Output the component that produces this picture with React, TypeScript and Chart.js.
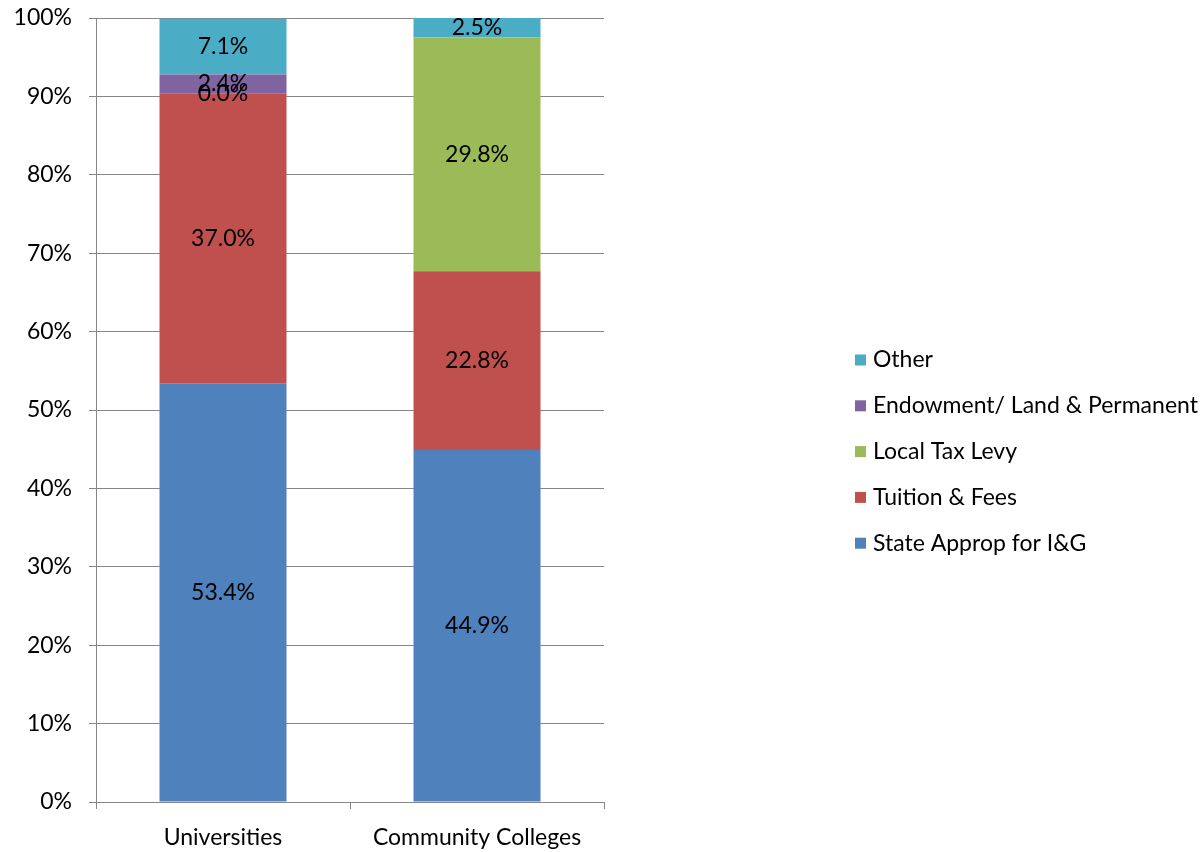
import React, { useEffect, useRef } from "react";
import { Chart, registerables } from "chart.js";

Chart.register(...registerables);

const categories = ["Universities", "Community Colleges"];
const seriesNames = ["State Approp for I&G", "Tuition & Fees", "Local Tax Levy", "Endowment/ Land & Permanent", "Other"];
const stateApprop = [53.4, 44.9];
const tuitionFees = [37.0, 22.8];
const localTaxLevy = [0.0, 29.8];
const endowment = [2.4, null];
const other = [7.1, 2.5];
const seriesColors = ["#4F81BD", "#C0504D", "#9BBB59", "#8064A2", "#4BACC6"];
const yTicks = [0, 10, 20, 30, 40, 50, 60, 70, 80, 90, 100];

const FONT = "Lato, 'Open Sans', sans-serif";
const FS = 23;
const GRID = "#868686";

const dataLabelPlugin = {
  id: "dataLabels",
  afterDatasetsDraw(chart: any) {
    const ctx = chart.ctx;
    ctx.save();
    ctx.font = `${FS}px ${FONT}`;
    ctx.fillStyle = "#000";
    ctx.textAlign = "center";
    ctx.textBaseline = "middle";
    chart.data.datasets.forEach((ds: any, di: number) => {
      const meta = chart.getDatasetMeta(di);
      meta.data.forEach((bar: any, i: number) => {
        const v = ds.data[i];
        if (v === null || v === undefined) return;
        const p = bar.getProps(["x", "y", "base"], true);
        ctx.fillText(v.toFixed(1) + "%", p.x, (p.y + p.base) / 2);
      });
    });
    ctx.restore();
  },
};

const legendPlugin = {
  id: "customLegend",
  afterDraw(chart: any) {
    const ctx = chart.ctx;
    const ds = chart.data.datasets;
    const x0 = 855;
    const yTop = 360;
    const gap = 45.8;
    ctx.save();
    ctx.font = `${FS}px ${FONT}`;
    ctx.textBaseline = "middle";
    ctx.textAlign = "left";
    for (let k = 0; k < ds.length; k++) {
      const d = ds[ds.length - 1 - k];
      const y = yTop + k * gap;
      ctx.fillStyle = d.backgroundColor;
      ctx.fillRect(x0, y - 5.5, 11, 11);
      ctx.fillStyle = "#000";
      ctx.fillText(d.label, x0 + 18, y);
    }
    ctx.restore();
  },
};

export default function App() {
  const ref = useRef<HTMLCanvasElement>(null);
  useEffect(() => {
    document.body.style.margin = "0";
    const values = [stateApprop, tuitionFees, localTaxLevy, endowment, other];
    const chart = new Chart(ref.current as HTMLCanvasElement, {
      type: "bar",
      data: {
        labels: categories,
        datasets: seriesNames.map((name, i) => ({
          label: name,
          data: values[i] as any,
          backgroundColor: seriesColors[i],
          borderWidth: 0,
          categoryPercentage: 1,
          barPercentage: 0.5,
        })),
      },
      options: {
        responsive: false,
        animation: false,
        layout: { padding: { left: 0, right: 599, top: 18, bottom: 0 } },
        plugins: { legend: { display: false }, tooltip: { enabled: false } },
        scales: {
          x: {
            stacked: true,
            offset: true,
            grid: {
              offset: true,
              drawOnChartArea: false,
              drawTicks: true,
              tickLength: 7,
              color: GRID,
            },
            border: { color: GRID, width: 1 },
            ticks: { color: "#000", font: { family: FONT, size: FS }, padding: 15 },
            afterFit: (s: any) => {
              s.height = 50;
              s.paddingLeft = 0;
              s.paddingRight = 0;
            },
          },
          y: {
            stacked: true,
            min: 0,
            max: 100,
            afterBuildTicks: (s: any) => {
              s.ticks = yTicks.map((v) => ({ value: v }));
            },
            grid: { color: GRID, tickLength: 7 },
            border: { color: GRID, width: 1 },
            ticks: {
              color: "#000",
              font: { family: FONT, size: FS },
              padding: 17,
              callback: (v: any) => v + "%",
            },
            afterFit: (s: any) => {
              s.width = 96;
              s.paddingTop = 0;
              s.paddingBottom = 0;
            },
          },
        },
      },
      plugins: [dataLabelPlugin, legendPlugin],
    });
    return () => chart.destroy();
  }, []);
  return (
    <div style={{ width: 1203, height: 852 }}>
      <canvas ref={ref} width={1203} height={852} style={{ display: "block" }} />
    </div>
  );
}
